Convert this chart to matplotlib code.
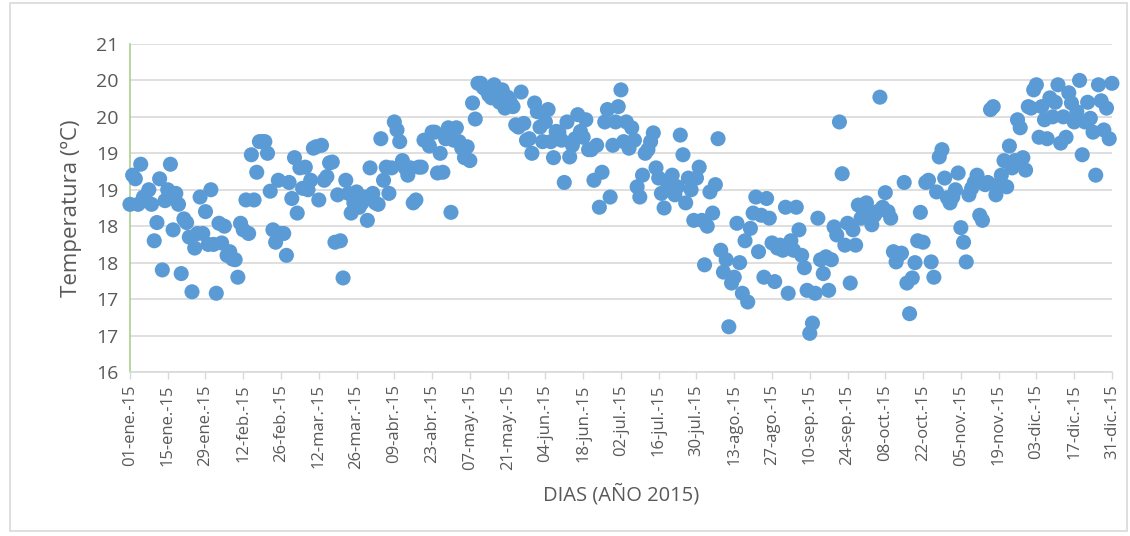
"""Temperatura diaria 2015 - grafico de dispersion estilo Excel."""
import matplotlib
matplotlib.use("Agg")
import matplotlib.pyplot as plt
from matplotlib.patches import Rectangle
import pandas as pd

# ── Datos (temperatura media diaria, ºC) ─────────────────────────────────────
ene = [18.3, 18.7, 18.65, 18.3, 18.85, 18.4, 18.35, 18.5, 18.3, 17.8,
       18.05, 18.65, 17.4, 18.35, 18.5, 18.85, 17.95, 18.45, 18.3, 17.35,
       18.1, 18.05, 17.85, 17.1, 17.7, 17.9, 18.4, 17.9, 18.2, 17.75, 18.5]
feb = [17.75, 17.08, 18.04, 17.77, 18.0, 17.6, 17.65, 17.55, 17.54, 17.3,
       18.04, 17.95, 18.36, 17.9, 18.98, 18.36, 18.74, 19.16, 19.16, 19.16,
       19.0, 18.48, 17.95, 17.78, 18.63, 17.9, 17.9, 17.6]
mar = [18.6, 18.38, 18.94, 18.18, 18.8, 18.52, 18.81, 18.5, 18.63, 19.07,
       19.09, 18.36, 19.11, 18.63, 18.68, 18.87, 18.88, 17.78, 18.43, 17.8,
       17.29, 18.63, 18.45, 18.18, 18.32, 18.47, 18.26, 18.32, 18.4, 18.08, 18.8]
abr = [18.45, 18.32, 18.3, 19.2, 18.63, 18.81, 18.45, 18.8, 19.43, 19.32,
       19.16, 18.9, 18.8, 18.7, 18.8, 18.32, 18.36, 18.81, 18.81, 19.18,
       19.18, 19.1, 19.29, 19.29, 18.73, 19.0, 18.74, 19.2, 19.35, 18.19]
may = [19.18, 19.35, 19.16, 19.07, 18.94, 19.09, 18.9, 19.69, 19.47, 19.96,
       19.96, 19.9, 19.87, 19.8, 19.76, 19.94, 19.8, 19.7, 19.87, 19.62,
       19.77, 19.7, 19.64, 19.39, 19.36, 19.84, 19.41, 19.18, 19.2, 19.0, 19.69]
jun = [19.57, 19.36, 19.16, 19.43, 19.6, 19.16, 18.94, 19.3, 19.29, 19.18,
       18.6, 19.43, 18.95, 19.11, 19.2, 19.53, 19.3, 19.22, 19.46, 19.05,
       19.05, 18.63, 19.11, 18.26, 18.74, 19.43, 19.6, 18.4, 19.11, 19.43]
jul = [19.64, 19.87, 19.16, 19.43, 19.07, 19.35, 19.18, 18.54, 18.4, 18.7,
       19.0, 19.05, 19.16, 19.28, 18.8, 18.66, 18.45, 18.25, 18.5, 18.6,
       18.7, 18.43, 18.54, 19.25, 18.98, 18.32, 18.66, 18.5, 18.08, 18.66, 18.81]
ago = [18.08, 17.47, 18.0, 18.47, 18.18, 18.57, 19.2, 17.67, 17.37, 17.54,
       16.62, 17.22, 17.3, 18.04, 17.5, 17.08, 17.8, 16.96, 17.97, 18.18,
       18.4, 17.65, 18.15, 17.3, 18.38, 18.11, 17.77, 17.24, 17.7, 17.74, 17.67]
sep = [18.26, 17.08, 17.8, 17.67, 18.26, 17.95, 17.6, 17.43, 17.12, 16.53,
       16.67, 17.08, 18.11, 17.54, 17.35, 17.58, 17.12, 17.54, 17.99, 17.88,
       19.43, 18.72, 17.74, 18.04, 17.22, 17.95, 17.74, 18.29, 18.11, 18.2]
octu = [18.32, 18.13, 18.02, 18.15, 18.2, 19.77, 18.26, 18.46, 18.2, 18.11,
        17.65, 17.51, 17.6, 17.63, 18.6, 17.22, 16.8, 17.29, 17.5, 17.8,
        18.19, 17.78, 18.6, 18.63, 17.51, 17.3, 18.47, 18.95, 19.05, 18.66, 18.39]
nov = [18.32, 18.4, 18.5, 18.73, 17.98, 17.78, 17.51, 18.43, 18.52, 18.6,
       18.7, 18.15, 18.08, 18.57, 18.6, 19.6, 19.64, 18.43, 18.57, 18.7,
       18.9, 18.54, 19.1, 18.8, 18.9, 19.46, 19.35, 18.94, 18.77, 19.64]
dic = [19.62, 19.87, 19.94, 19.22, 19.64, 19.46, 19.2, 19.76, 19.5, 19.7,
       19.94, 19.14, 19.5, 19.22, 19.83, 19.69, 19.43, 19.57, 20.0, 18.98,
       19.43, 19.7, 19.48, 19.29, 18.7, 19.94, 19.72, 19.32, 19.62, 19.2, 19.96]

MESES = ["ene", "feb", "mar", "abr", "may", "jun",
         "jul", "ago", "sep", "oct", "nov", "dic"]
Y_TICKS = [16.0, 16.5, 17.0, 17.5, 18.0, 18.5, 19.0, 19.5, 20.0, 20.5]
Y_LABELS = ["16", "17", "17", "18", "18", "19", "19", "20", "20", "21"]

TEXT = "#595959"
BLUE = "#5B9BD5"
GRID = "#D9D9D9"

temps = ene + feb + mar + abr + may + jun + jul + ago + sep + octu + nov + dic
fechas = pd.date_range("2015-01-01", periods=len(temps), freq="D")

plt.rcParams["font.family"] = ["Open Sans", "DejaVu Sans"]

fig = plt.figure(figsize=(11.3, 5.36), dpi=100)
ax = fig.add_axes([0.115, 0.306, 0.869, 0.612])

ax.scatter(fechas, temps, s=118, color=BLUE, edgecolors="none", zorder=3, clip_on=False)

ax.set_ylim(16, 20.5)
ax.set_yticks(Y_TICKS)
ax.set_yticklabels(Y_LABELS)
ax.set_xlim(fechas[0], fechas[-1])
ticks = fechas[::14]
ax.set_xticks(ticks)
ax.set_xticklabels([f"{d.day:02d}-{MESES[d.month - 1]}.-15" for d in ticks], rotation=90)

ax.grid(True, axis="y", color=GRID, linewidth=1.2, zorder=0)
ax.tick_params(axis="y", length=0, pad=8, labelsize=14, labelcolor=TEXT)
ax.tick_params(axis="x", length=5, width=1, color=GRID, pad=4, labelsize=12, labelcolor=TEXT)

for side in ("top", "right"):
    ax.spines[side].set_visible(False)
ax.spines["left"].set_color("#A9D18E")
ax.spines["left"].set_linewidth(1.2)
ax.spines["bottom"].set_color(GRID)
ax.spines["bottom"].set_linewidth(1.2)

ax.set_ylabel("Temperatura (ºC)", fontsize=16, color=TEXT, labelpad=10)
ax.set_xlabel("DIAS (AÑO 2015)", fontsize=14.5, color=TEXT, labelpad=10)

# marco exterior del grafico
fig.patches.append(Rectangle((0.009, 0.01), 0.988, 0.985, transform=fig.transFigure,
                             fill=False, edgecolor=GRID, linewidth=1.2))

fig.savefig("out.png", dpi=100)
